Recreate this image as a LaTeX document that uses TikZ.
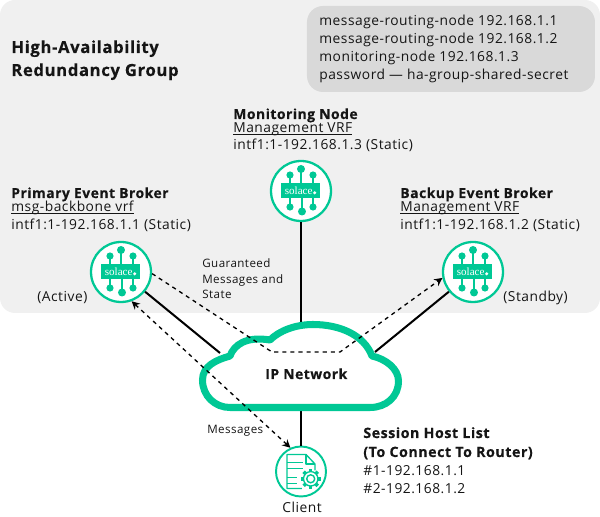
\documentclass[tikz,border=0pt]{standalone}
\usepackage{fontspec}
\setmainfont[LetterSpace=3.7,BoldFeatures={FakeBold=0.3}]{Open Sans}
\usetikzlibrary{arrows.meta}
\definecolor{solgreen}{HTML}{00C895}
\definecolor{groupgray}{HTML}{F0F0F0}
\definecolor{notegray}{HTML}{D9D9D9}
\definecolor{inktext}{HTML}{151515}
\newcommand{\ulined}[1]{\setbox0\hbox{#1}\rlap{\rule[-1.2pt]{\wd0}{0.4pt}}\box0}
\tikzset{
  txt/.style={anchor=base west,inner sep=0pt,text=inktext,font=\fontsize{7.85}{9}\selectfont},
  hdr/.style={txt,font=\fontsize{7.9}{9}\selectfont\bfseries},
  hostlbl/.style={txt,font=\fontsize{8.1}{9}\selectfont\bfseries},
  ttl/.style={txt,font=\fontsize{9.5}{11}\selectfont\bfseries},
  small/.style={txt,font=\fontsize{6.6}{8}\selectfont},
  iconring/.style={shape=circle,draw=solgreen,fill=white,line width=1.3pt,inner sep=0pt,minimum size=1.2cm},
  wire/.style={draw=black,line width=1.15pt},
  flow/.style={draw=black,line width=0.75pt,dash pattern=on 2.3pt off 2.3pt,-{Stealth[length=4.6pt,width=4.6pt]}},
  logo/.pic={
    \foreach \x/\y/\r in {-11/-16/3.6,0/-22/4,12/-16/3.6,-11/16/3.6,1/20.5/4,12/16/3.6}{
      \draw[solgreen,line width=0.7pt] (\x,0) -- (\x,\y);
      \fill[solgreen] (\x,\y) circle (\r);
    }
    \fill[solgreen] (-19.5,-7.5) rectangle (19.5,7.5);
    \node[text=white,inner sep=0pt,font=\fontspec{Liberation Serif}\fontsize{6.3}{6}\selectfont] (-word) at (-2.3,-0.5) {solace};
    \fill[white] (13.7,1.8) circle (1.7);
  },
  clienticon/.pic={
    \draw[solgreen,line width=0.75pt,line join=round] (1,17) -- (-14,17) -- (-14,-17) -- (5,-17) -- (14,-7.5) -- (14,-1);
    \draw[solgreen,line width=0.75pt,line join=round] (5,-17) -- (5,-7.5) -- (14,-7.5);
    \foreach \y/\e in {-9.3/2,-2.7/2,5.7/-4,12.3/-4}{
      \draw[solgreen,line width=0.75pt] (-14,\y) -- (\e,\y);
    }
    \foreach \a in {0,45,...,315}{
      \draw[solgreen,line width=2pt] (9.7,7.3) ++(\a:6) -- ++(\a:4);
    }
    \draw[solgreen,line width=0.75pt,fill=white] (9.7,7.3) circle (7.2);
    \draw[solgreen,line width=0.8pt] (9.7,7.3) circle (4);
  }
}
\begin{document}
\begin{tikzpicture}[x=0.02cm,y=-0.02cm]
\useasboundingbox (0,0) rectangle (600,517);
% group backgrounds
\fill[groupgray,rounded corners=0.3cm] (0,0) rectangle (600,313);
\fill[notegray,rounded corners=0.32cm] (307,6) rectangle (595,92);
% cloud anchors
\coordinate (cloudl) at (220,353);
\coordinate (cloudr) at (375,352);
\coordinate (cloudt) at (301,326);
\coordinate (cloudb) at (301,407);
\coordinate (gmsa) at (272,352);
\coordinate (gmsb) at (340,352);
% nodes
\node[iconring] (primary) at (121,272) {};
\node[iconring] (monitor) at (301,191) {};
\node[iconring] (backup) at (473,272) {};
\node[iconring,minimum size=1cm,line width=1.1pt] (client) at (301,471.5) {};
% solid links
\path [wire] (primary) edge (cloudl);
\path [wire] (monitor) edge (cloudt);
\path [wire] (backup) edge (cloudr);
\path [wire] (client) edge (cloudb);
% cloud
\draw[solgreen,line width=4pt,fill=white,line join=round] (202.5,380)
  .. controls (202.5,366) and (216,360) .. (230,356)
  .. controls (234,345) and (246,336) .. (270,340)
  .. controls (279,331) and (295,324.5) .. (313,324.5)
  .. controls (340,324.5) and (364,335) .. (372,356)
  .. controls (386,359) and (398.5,369) .. (398.5,381)
  .. controls (398.5,397) and (386,407.5) .. (370,407.5)
  -- (230,407.5)
  .. controls (215,407.5) and (202.5,396) .. (202.5,380) -- cycle;
% dashed flows
\draw[flow,{Stealth[length=4.6pt,width=4.6pt]}-{Stealth[length=4.6pt,width=4.6pt]}] (primary.-70) -- (client.114);
\draw[flow] (primary.-3) -- (gmsa) -- (gmsb) -- (backup.191);
% icons
\pic at (primary) {logo};
\pic at (monitor) {logo};
\pic at (backup) {logo};
\pic at (client) {clienticon};
% labels
\node[ttl] (titlea) at (11,53) {High-Availability};
\node[ttl] (titleb) at (11,76) {Redundancy Group};
\node[txt] (notea) at (319,26) {message-routing-node 192.168.1.1};
\node[txt] (noteb) at (319,44) {message-routing-node 192.168.1.2};
\node[txt] (notec) at (319,62) {monitoring-node 192.168.1.3};
\node[txt] (noted) at (319,80) {password — ha-group-shared-secret};
\node[hdr] (monname) at (233,119) {Monitoring Node};
\node[txt] (monvrf) at (233,133) {\ulined{Management VRF}};
\node[txt] (monip) at (233,150) {intf1:1-192.168.1.3 (Static)};
\node[hdr] (priname) at (11,198) {Primary Event Broker};
\node[txt] (privrf) at (11,212) {\ulined{msg-backbone vrf}};
\node[txt] (priip) at (11,230) {intf1:1-192.168.1.1 (Static)};
\node[txt] (priact) at (37,302) {(Active)};
\node[hdr] (bakname) at (400,198) {Backup Event Broker};
\node[txt] (bakvrf) at (400,212) {\ulined{Management VRF}};
\node[txt] (bakip) at (400,230) {intf1:1-192.168.1.2 (Static)};
\node[txt] (bakstb) at (503,302) {(Standby)};
\node[small] (gmsone) at (202,268) {Guaranteed};
\node[small] (gmstwo) at (202,284) {Messages and};
\node[small] (gmsthree) at (202,299) {State};
\node[small] (msglabel) at (207,434) {Messages};
\node[hdr] (ipnet) at (265,379) {IP Network};
\node[hostlbl] (hosta) at (363,438) {Session Host List};
\node[hostlbl] (hostb) at (363,457) {(To Connect To Router)};
\node[txt] (hostc) at (363,476) {\#1-192.168.1.1};
\node[txt] (hostd) at (363,494) {\#2-192.168.1.2};
\node[txt] (clientname) at (282,512.5) {Client};
\end{tikzpicture}
\end{document}
